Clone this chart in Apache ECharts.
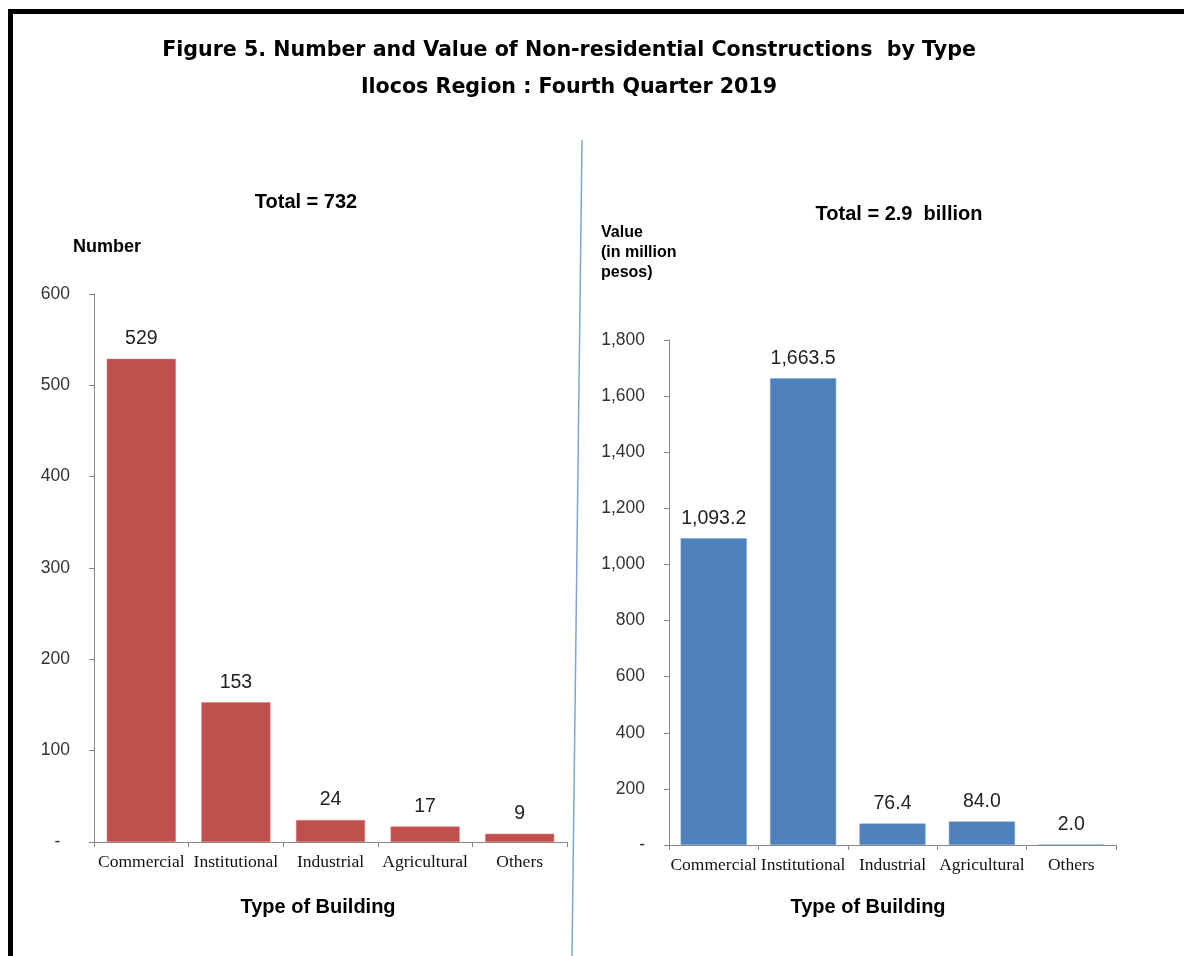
<!DOCTYPE html>
<html><head><meta charset="utf-8">
<script src="https://cdn.jsdelivr.net/npm/echarts@6/dist/echarts.min.js"></script>
<style>html,body{margin:0;padding:0;background:#fff}#c{width:1184px;height:956px}</style>
</head><body><div id="c"></div>
<script>
const categories = ['Commercial','Institutional','Industrial','Agricultural','Others'];
const numberValues = [529, 153, 24, 17, 9];
const valueMillions = [1093.2, 1663.5, 76.4, 84.0, 2.0];
const numberTicks = [0, 600, 100];
const valueTicks = [0, 1800, 200];
const titleLines = ['Figure 5. Number and Value of Non-residential Constructions  by Type', 'Ilocos Region : Fourth Quarter 2019'];
const totalNumberText = 'Total = 732';
const totalValueText = 'Total = 2.9  billion';
const numberAxisTitle = 'Number';
const valueAxisTitle = ['Value', '(in million', 'pesos)'];
const xAxisTitle = 'Type of Building';

const chart = echarts.init(document.getElementById('c'), null, {renderer:'canvas'});
const fmtComma = v => v === 0 ? '-' : v.toLocaleString('en-US');
const sans = 'Liberation Sans, Arial, sans-serif';
const serif = 'Liberation Serif, Times New Roman, serif';
const xAxisCommon = (idx) => ({
  type:'category', gridIndex: idx, data: categories,
  axisLine:{lineStyle:{color:'#868686', width:1}},
  axisTick:{show:true, alignWithLabel:false, length:5, lineStyle:{color:'#868686'}},
  axisLabel:{fontFamily: serif, fontSize:17.5, color:'#111', margin:11, interval:0}
});
const yCommon = (idx, t, fmt) => ({
  type:'value', gridIndex: idx, min:t[0], max:t[1], interval:t[2],
  axisLine:{show:true, lineStyle:{color:'#868686'}},
  axisTick:{show:true, length:5, inside:false, lineStyle:{color:'#868686'}},
  splitLine:{show:false},
  axisLabel:{fontFamily:sans, fontSize:17.5, color:'#333', margin:24, formatter: fmt}
});
const txt = (text, x, y, size, align, extra) => Object.assign({
  type:'text', x:x, y:y, z:100,
  style:Object.assign({text:text, fill:'#000', fontFamily:sans, fontWeight:'bold', fontSize:size,
    align:align, verticalAlign:'middle', textAlign:align, textVerticalAlign:'middle'}, extra || {})
});

chart.setOption({
  animation:false,
  backgroundColor:'#fff',
  graphic:[
    {type:'rect', shape:{x:10.5, y:11.5, width:1250, height:1000}, style:{fill:'none', stroke:'#000', lineWidth:5}, z:100},
    {type:'line', shape:{x1:582, y1:140, x2:572, y2:956}, style:{stroke:'#7ea5d6', lineWidth:1.5}, z:100},
    txt(titleLines.join('\n'), 569, 69.5, 20.6, 'center', {fontFamily:'DejaVu Sans, Verdana, sans-serif', lineHeight:37}),
    txt(totalNumberText, 306, 202, 20, 'center'),
    txt(numberAxisTitle, 73, 247, 18, 'left'),
    txt(totalValueText, 899, 214, 20, 'center'),
    txt(valueAxisTitle.join('\n'), 601, 253, 16, 'left', {lineHeight:20}),
    txt(xAxisTitle, 318, 907, 20, 'center'),
    txt(xAxisTitle, 868, 907, 20, 'center')
  ],
  grid:[
    {left:94, right:617, top:294, bottom:114, containLabel:false},
    {left:669, right:68, top:340, bottom:111, containLabel:false}
  ],
  xAxis:[xAxisCommon(0), xAxisCommon(1)],
  yAxis:[
    yCommon(0, numberTicks, v => v === 0 ? '-  ' : String(v)),
    yCommon(1, valueTicks, fmtComma)
  ],
  series:[
    {type:'bar', xAxisIndex:0, yAxisIndex:0, data:numberValues, barCategoryGap:'27%',
     itemStyle:{color:'#C0504D', borderColor:'#d97a77', borderWidth:0.5},
     label:{show:true, position:'top', distance:10, fontFamily:sans, fontSize:19.5, color:'#222'}},
    {type:'bar', xAxisIndex:1, yAxisIndex:1, data:valueMillions, barCategoryGap:'26%',
     itemStyle:{color:'#4F81BD', borderColor:'#7fa3d3', borderWidth:0.5},
     label:{show:true, position:'top', distance:10, fontFamily:sans, fontSize:19.5, color:'#222',
            formatter: p => p.value.toLocaleString('en-US',{minimumFractionDigits:1, maximumFractionDigits:1})}}
  ]
});
</script></body></html>
